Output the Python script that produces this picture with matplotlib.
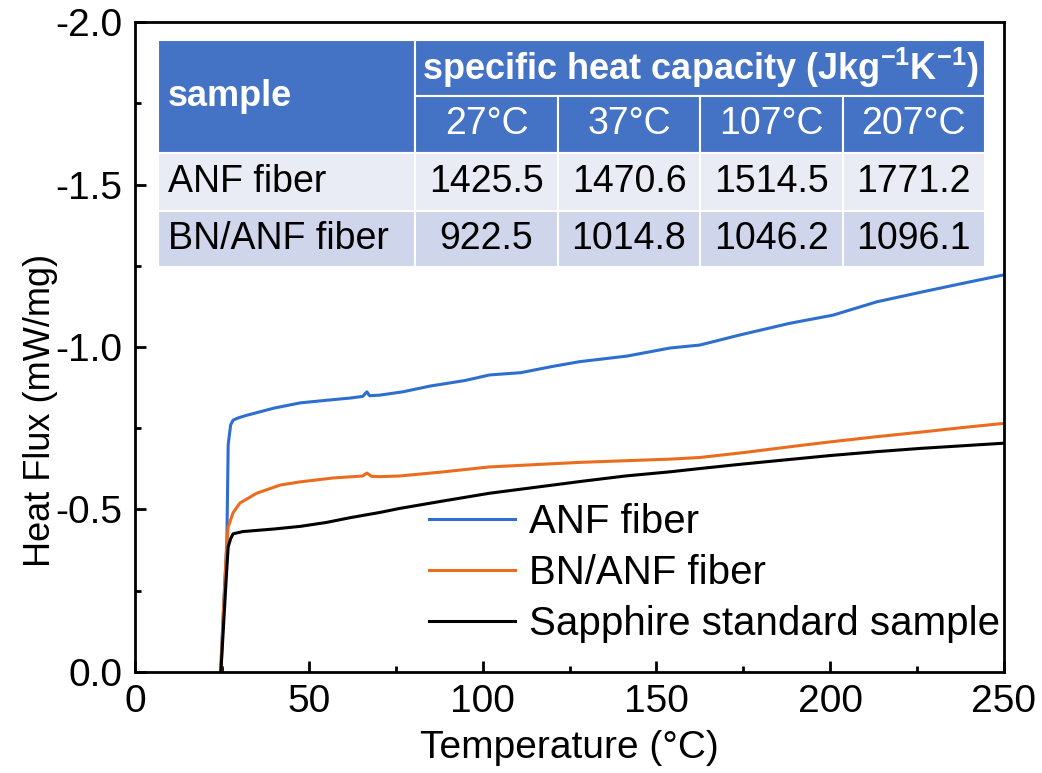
import matplotlib
matplotlib.use('Agg')
import matplotlib.pyplot as plt
from matplotlib.patches import Rectangle
from matplotlib.ticker import MultipleLocator

plt.rcParams['font.family'] = ['Liberation Sans', 'DejaVu Sans']
plt.rcParams['mathtext.fontset'] = 'custom'
plt.rcParams['mathtext.rm'] = 'Liberation Sans'
plt.rcParams['mathtext.bf'] = 'Liberation Sans:bold'

# DSC curves (temperature in C, heat flux in mW/mg)
anf_temp = [24.6, 25.6, 26.4, 26.8, 27.5, 28.2, 30.0, 32.2, 40.0, 47.5, 55.0, 62.0, 65.5, 66.7,
            67.5, 70.5, 77.0, 85.0, 95.0, 102.0, 111.0, 120.0, 128.0, 141.5, 154.0, 162.5,
            174.0, 188.4, 200.8, 213.4, 226.7, 238.2, 250.0]
anf_flux = [0.0, -0.23, -0.39, -0.70, -0.76, -0.775, -0.783, -0.79, -0.812, -0.828, -0.836, -0.843,
            -0.848, -0.862, -0.85, -0.852, -0.862, -0.88, -0.897, -0.914, -0.921, -0.94, -0.955,
            -0.972, -0.997, -1.006, -1.037, -1.073, -1.098, -1.139, -1.17, -1.196, -1.222]

bn_temp = [24.7, 25.5, 26.3, 26.8, 28.2, 30.2, 35.0, 41.7, 47.5, 57.0, 65.5, 66.7, 68.0, 70.5,
           76.0, 88.0, 102.0, 115.0, 128.0, 141.0, 154.0, 162.5, 175.0, 188.4, 200.0, 213.4,
           226.0, 238.0, 250.0]
bn_flux = [0.0, -0.2, -0.38, -0.446, -0.49, -0.52, -0.55, -0.575, -0.585, -0.597, -0.603, -0.612,
           -0.602, -0.601, -0.603, -0.615, -0.631, -0.638, -0.645, -0.65, -0.655, -0.66, -0.675,
           -0.693, -0.708, -0.724, -0.738, -0.752, -0.765]

sapph_temp = [24.7, 25.5, 26.3, 26.8, 27.5, 28.2, 31.0, 40.0, 47.5, 55.0, 62.0, 70.5, 76.0, 88.0,
              102.0, 115.0, 128.0, 141.0, 154.0, 162.5, 175.0, 188.4, 200.0, 213.4, 226.0, 238.0, 250.0]
sapph_flux = [0.0, -0.15, -0.3, -0.385, -0.41, -0.425, -0.432, -0.44, -0.448, -0.46, -0.475, -0.491,
              -0.503, -0.525, -0.55, -0.568, -0.586, -0.603, -0.616, -0.626, -0.64, -0.654, -0.666,
              -0.678, -0.688, -0.696, -0.704]

labels = ['ANF fiber', 'BN/ANF fiber', 'Sapphire standard sample']
colors = ['#2D6ECF', '#EA6D1F', 'black']

# table contents
table_temps = ['27°C', '37°C', '107°C', '207°C']
table_samples = ['ANF fiber', 'BN/ANF fiber']
cp_anf = ['1425.5', '1470.6', '1514.5', '1771.2']
cp_bn = ['922.5', '1014.8', '1046.2', '1096.1']

fig = plt.figure(figsize=(10.42, 7.73), dpi=100)
ax = fig.add_axes([0.1296, 0.1307, 0.8339, 0.8408])

for t, f, lab, c in zip([anf_temp, bn_temp, sapph_temp], [anf_flux, bn_flux, sapph_flux], labels, colors):
    ax.plot(t, f, color=c, lw=2.2, label=lab)

ax.set_xlim(0, 250)
ax.set_ylim(0, -2.0)
ax.xaxis.set_major_locator(MultipleLocator(50))
ax.xaxis.set_minor_locator(MultipleLocator(25))
ax.yaxis.set_major_locator(MultipleLocator(0.5))
ax.yaxis.set_minor_locator(MultipleLocator(0.25))
ax.yaxis.set_major_formatter(plt.FuncFormatter(lambda v, p: f'{v:.1f}' if v != 0 else '0.0'))
ax.tick_params(which='both', direction='in', width=2, labelsize=28, pad=9)
ax.tick_params(which='major', length=8)
ax.tick_params(which='minor', length=4)
for s in ax.spines.values():
    s.set_linewidth(2)

ax.set_xlabel('Temperature (°C)', fontsize=28)
ax.set_ylabel('Heat Flux (mW/mg)', fontsize=26)
ax.xaxis.set_label_coords(0.5, -0.09)
ax.yaxis.set_label_coords(-0.089, 0.403)

ax.legend(loc='lower right', bbox_to_anchor=(0.995, 0.044), frameon=False, fontsize=29,
          handlelength=2.15, handletextpad=0.33, labelspacing=0.33, borderpad=0, borderaxespad=0)

# table, laid out in axes fractions
col_x = [0.0265, 0.3222, 0.4867, 0.6502, 0.8147, 0.9776]
row_y = [0.9723, 0.8862, 0.7985, 0.7092, 0.6231]
head_c = '#4472C4'
row_c = ['#E9EBF5', '#CFD5EA']

def cell(x0, x1, y0, y1, fc):
    ax.add_patch(Rectangle((x0, y1), x1 - x0, y0 - y1, transform=ax.transAxes, facecolor=fc,
                           edgecolor='white', lw=1.5, zorder=3, clip_on=False))

cell(col_x[0], col_x[1], row_y[0], row_y[2], head_c)
cell(col_x[1], col_x[5], row_y[0], row_y[1], head_c)
for i in range(4):
    cell(col_x[i + 1], col_x[i + 2], row_y[1], row_y[2], head_c)
for r in range(2):
    for i in range(5):
        cell(col_x[i], col_x[i + 1], row_y[r + 2], row_y[r + 3], row_c[r])

ax.text(0.038, (row_y[0] + row_y[2]) / 2, 'sample', transform=ax.transAxes, color='white',
        fontsize=26, fontweight='bold', ha='left', va='center', zorder=4)
ax.text((col_x[1] + col_x[5]) / 2, (row_y[0] + row_y[1]) / 2,
        r'specific heat capacity (Jkg$^{\mathbf{-1}}$K$^{\mathbf{-1}}$)', transform=ax.transAxes,
        color='white', fontsize=26, fontweight='bold', ha='center', va='center', zorder=4)
for i, t in enumerate(table_temps):
    ax.text((col_x[i + 1] + col_x[i + 2]) / 2, (row_y[1] + row_y[2]) / 2, t, transform=ax.transAxes,
            color='white', fontsize=27, ha='center', va='center', zorder=4)
for r, (name, vals) in enumerate(zip(table_samples, [cp_anf, cp_bn])):
    yc = (row_y[r + 2] + row_y[r + 3]) / 2
    ax.text(0.038, yc, name, transform=ax.transAxes, fontsize=27, ha='left', va='center', zorder=4)
    for i, v in enumerate(vals):
        ax.text((col_x[i + 1] + col_x[i + 2]) / 2, yc, v, transform=ax.transAxes,
                fontsize=27, ha='center', va='center', zorder=4)

fig.savefig('out.png', dpi=100)
